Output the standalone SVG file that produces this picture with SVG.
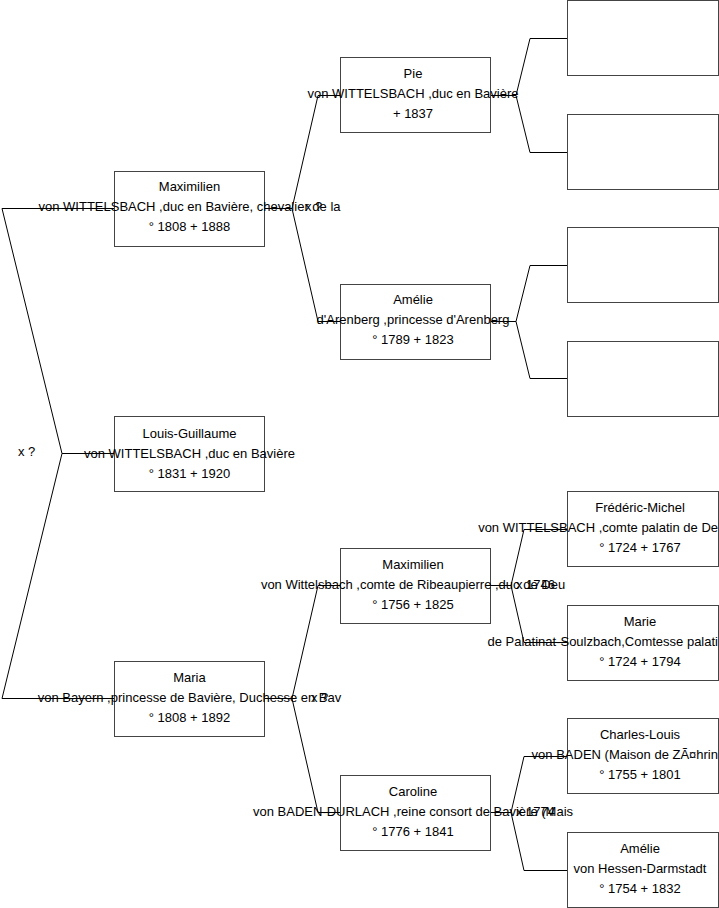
<svg xmlns="http://www.w3.org/2000/svg" width="719" height="908" viewBox="0 0 719 908">
<style>
.box{fill:#fff;stroke:#444;stroke-width:1}
.t{font-family:"Liberation Sans",Arial,sans-serif;font-size:13px;fill:#000;text-anchor:middle}
.e{text-anchor:end}
.lab{font-family:"Liberation Sans",Arial,sans-serif;font-size:13px;fill:#000}
.c{fill:none;stroke:#000;stroke-width:1}
</style>
<rect width="719" height="908" fill="#fff"/>
<g id="connectors">
<path class="c" d="M114,208.5H2L62,453.5L2,698.5H114M62,453.5H114"/>
<path class="c" d="M264,208.5H292L318,95.5H340M292,208.5L318,321.5H340"/>
<path class="c" d="M264,698.5H292L318,585.5H340M292,698.5L318,812.5H340"/>
<path class="c" d="M490,95.5H516L530,38.5H567M516,95.5L530,152.5H567"/>
<path class="c" d="M490,321.5H516L530,265.5H567M516,321.5L530,378.5H567"/>
<path class="c" d="M490,585.5H511L524,529.5H567M511,585.5L524,642.5H567"/>
<path class="c" d="M490,812.5H511L524,756.5H567M511,812.5L524,870.5H567"/>
</g>
<g id="labels">
<text class="lab" x="18" y="456">x ?</text>
<text class="lab" x="305" y="211">x ?</text>
<text class="lab" x="311" y="702">x ?</text>
<text class="lab" x="516" y="589">x 1746</text>
<text class="lab" x="516" y="816">x 1774</text>
</g>
<g id="n1">
<rect class="box" x="114.5" y="171.5" width="150" height="75"/>
<text class="t" x="189.5" y="191">Maximilien</text>
<text class="t" x="189.5" y="211">von WITTELSBACH ,duc en Bavière, chevalier de la</text>
<text class="t" x="189.5" y="231">° 1808 + 1888</text>
</g>
<g id="n2">
<rect class="box" x="114.5" y="416.5" width="150" height="75"/>
<text class="t" x="189.5" y="438">Louis-Guillaume</text>
<text class="t" x="189.5" y="458">von WITTELSBACH ,duc en Bavière</text>
<text class="t" x="189.5" y="478">° 1831 + 1920</text>
</g>
<g id="n3">
<rect class="box" x="114.5" y="661.5" width="150" height="75"/>
<text class="t" x="189.5" y="682">Maria</text>
<text class="t" x="189.5" y="702">von Bayern ,princesse de Bavière, Duchesse en Bav</text>
<text class="t" x="189.5" y="722">° 1808 + 1892</text>
</g>
<g id="n4">
<rect class="box" x="340.5" y="57.5" width="150" height="75"/>
<text class="t" x="413" y="78">Pie</text>
<text class="t" x="413" y="98">von WITTELSBACH ,duc en Bavière</text>
<text class="t" x="413" y="118">+ 1837</text>
</g>
<g id="n5">
<rect class="box" x="340.5" y="284.5" width="150" height="75"/>
<text class="t" x="413" y="304">Amélie</text>
<text class="t" x="413" y="324">d'Arenberg ,princesse d'Arenberg</text>
<text class="t" x="413" y="344">° 1789 + 1823</text>
</g>
<g id="n6">
<rect class="box" x="340.5" y="548.5" width="150" height="75"/>
<text class="t" x="413" y="569">Maximilien</text>
<text class="t" x="413" y="589">von Wittelsbach ,comte de Ribeaupierre ,duc de Deu</text>
<text class="t" x="413" y="609">° 1756 + 1825</text>
</g>
<g id="n7">
<rect class="box" x="340.5" y="775.5" width="150" height="75"/>
<text class="t" x="413" y="796">Caroline</text>
<text class="t" x="413" y="816">von BADEN-DURLACH ,reine consort de Bavière (Mais</text>
<text class="t" x="413" y="836">° 1776 + 1841</text>
</g>
<g id="n8"><rect class="box" x="567.5" y="0.5" width="151" height="75"/></g>
<g id="n9"><rect class="box" x="567.5" y="114.5" width="151" height="75"/></g>
<g id="n10"><rect class="box" x="567.5" y="227.5" width="151" height="75"/></g>
<g id="n11"><rect class="box" x="567.5" y="341.5" width="151" height="75"/></g>
<g id="n12">
<rect class="box" x="567.5" y="491.5" width="151" height="75"/>
<text class="t" x="640" y="512">Frédéric-Michel</text>
<text class="t e" x="718" y="532">von WITTELSBACH ,comte palatin de De</text>
<text class="t" x="640" y="552">° 1724 + 1767</text>
</g>
<g id="n13">
<rect class="box" x="567.5" y="605.5" width="151" height="75"/>
<text class="t" x="640" y="626">Marie</text>
<text class="t e" x="718" y="646">de Palatinat-Soulzbach,Comtesse palati</text>
<text class="t" x="640" y="666">° 1724 + 1794</text>
</g>
<g id="n14">
<rect class="box" x="567.5" y="718.5" width="151" height="75"/>
<text class="t" x="640" y="739">Charles-Louis</text>
<text class="t e" x="718" y="759">von BADEN (Maison de ZÃ¤hrin</text>
<text class="t" x="640" y="779">° 1755 + 1801</text>
</g>
<g id="n15">
<rect class="box" x="567.5" y="832.5" width="151" height="75"/>
<text class="t" x="640" y="853">Amélie</text>
<text class="t" x="640" y="873">von Hessen-Darmstadt</text>
<text class="t" x="640" y="893">° 1754 + 1832</text>
</g>
</svg>
